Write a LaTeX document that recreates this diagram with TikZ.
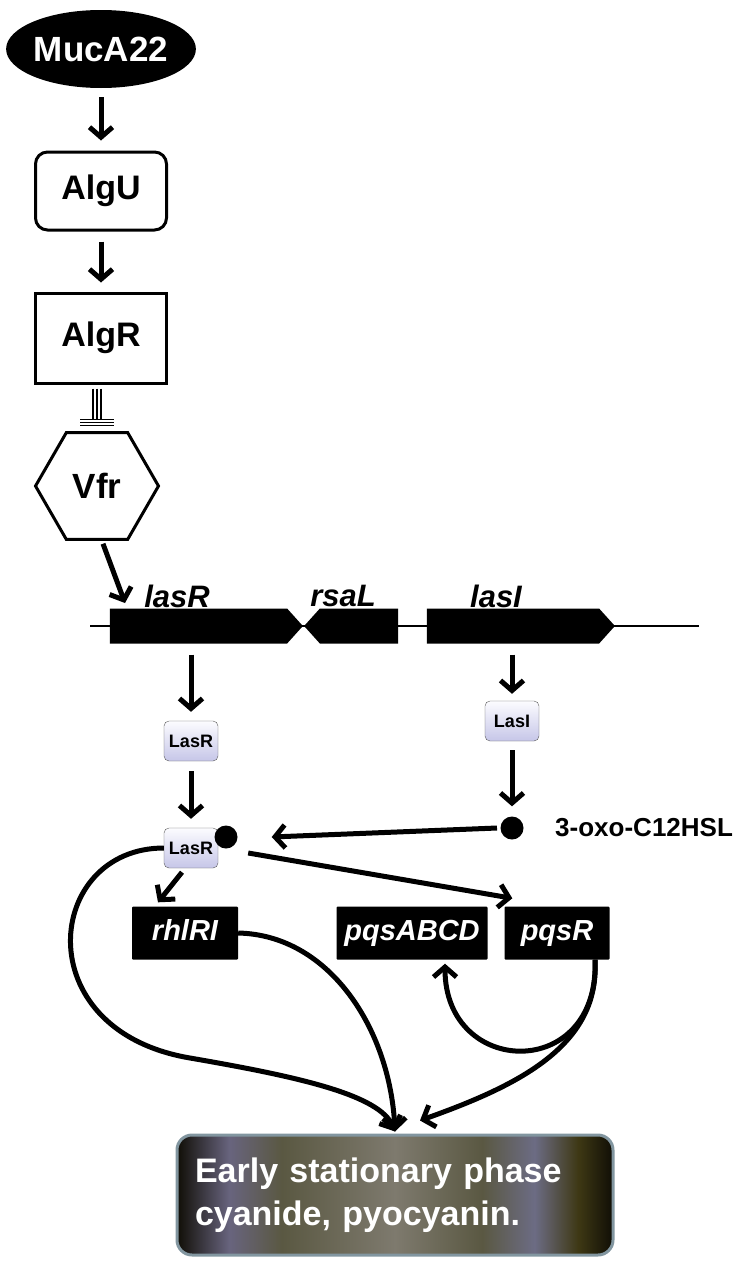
\documentclass[tikz,border=0pt]{standalone}
\usepackage{fontspec}
\setmainfont{Liberation Sans}
\usepackage{tikz}
\usetikzlibrary{positioning, shapes.geometric, shapes.symbols, arrows.meta}
\definecolor{protTop}{RGB}{252,252,255}
\definecolor{protBot}{RGB}{198,198,232}
\definecolor{finEdge}{RGB}{130,150,160}
\definecolor{fin0}{RGB}{16,14,6}
\definecolor{fin1}{RGB}{104,100,126}
\definecolor{fin2}{RGB}{90,88,66}
\definecolor{fin3}{RGB}{126,122,110}
\definecolor{fin4}{RGB}{108,108,132}
\definecolor{fin5}{RGB}{62,56,20}
\pgfdeclarehorizontalshading{finshade}{100bp}{color(0bp)=(fin0); color(25bp)=(fin0);
  color(31bp)=(fin1); color(37bp)=(fin2); color(50bp)=(fin3); color(60bp)=(fin2);
  color(66bp)=(fin4); color(71bp)=(fin5); color(75bp)=(fin0); color(100bp)=(fin0)}
\tikzstyle{arrow} = [line width=5pt,-{Straight Barb[length=10pt,width=23pt]}]

\begin{document}
\begin{tikzpicture}[x=1pt, y=-1pt,
    box/.style={draw, line width=3pt, minimum width=131, font=\fontsize{34}{38}\selectfont\bfseries},
    prot/.style={draw=gray!70!black, rounded corners=5, top color=protTop, bottom color=protBot,
      minimum width=54, minimum height=40, inner sep=0, font=\fontsize{18}{20}\selectfont\bfseries},
    gene/.style={signal, fill=black, minimum height=35, inner sep=0, signal pointer angle=96},
    glabel/.style={font=\fontsize{31}{34}\selectfont\bfseries\itshape},
    operon/.style={fill=black, text=white, minimum height=53, inner sep=0, rounded corners=1,
      text height=21, text depth=6, font=\fontsize{29}{32}\selectfont\bfseries\itshape},
    ahl/.style={circle, fill=black, minimum size=23, inner sep=0},
    finbox/.style={draw=finEdge, line width=3pt, rounded corners=15, shade, shading=finshade,
      minimum width=436, minimum height=120, text width=400, align=left, text=white,
      font=\fontsize{34}{43}\selectfont\bfseries}
  ]
  \useasboundingbox (0,0) rectangle (747,1266);

  % upstream regulators
  \node[ellipse, fill=black, text=white, minimum width=178, minimum height=78, inner sep=0,
    font=\fontsize{35}{38}\selectfont\bfseries] (muc) at (101,49) {MucA22};
  \node[box, rounded corners=12, minimum height=78] (algU) at (101,191) {AlgU};
  \node[box, minimum height=90] (algR) at (101,338) {AlgR};
  \node[regular polygon, regular polygon sides=6, minimum size=123, draw, line width=3pt, inner sep=0,
    font=\fontsize{35}{38}\selectfont\bfseries] (vfr) at (97,486) {Vfr};

  \draw[arrow] ([yshift=-9]muc.south) -- ([yshift=10]algU.north);
  \draw[arrow] ([yshift=-10]algU.south) -- ([yshift=9]algR.north);
  \foreach \dx in {-4,0,4}
    \draw[line width=1.3pt] ([xshift=\dx, yshift=-4]vfr.north |- algR.south) -- ([xshift=\dx, yshift=11]vfr.north);
  \foreach \dy in {6,9,12}
    \draw[line width=1.3pt] ([xshift=-17, yshift=\dy]vfr.north) -- ([xshift=17, yshift=\dy]vfr.north);

  % las locus
  \coordinate (locL) at (90,626);
  \coordinate (locR) at (699,626);
  \draw[line width=2.5pt] (locL) -- (locR);
  \node[gene, signal to=east, minimum width=193] (lasRg) at (198.5,626) {};
  \node[gene, signal to=west, minimum width=94] (rsaLg) at (359,626) {};
  \node[gene, signal to=east, minimum width=188] (lasIg) at (513,626) {};
  \node[glabel] (lasRt) at (177,596) {lasR};
  \node[glabel] (rsaLt) at (343,596) {rsaL};
  \node[glabel] (lasIt) at (496,596) {lasI};
  \coordinate (vfrTip) at (125,603);
  \draw[arrow] ([xshift=6, yshift=-3]vfr.south) -- (vfrTip);

  % proteins and signal
  \node[prot] (lasRp) at (191,741) {LasR};
  \node[prot] (lasIp) at (512,721) {LasI};
  \node[prot] (lasRc) at (191,848) {\raisebox{-7pt}{LasR}};
  \node[ahl] (ahlb) at (226,837) {};
  \node[ahl] (ahl) at (512,828) {};
  \node[right=28pt of ahl, font=\fontsize{26}{28}\selectfont\bfseries] (ahlt) {3-oxo-C12HSL};

  \draw[arrow] ([yshift=-11]lasRg.south -| lasRp.north) -- ([yshift=9]lasRp.north);
  \draw[arrow] ([yshift=-10]lasRp.south) -- ([yshift=9]lasRc.north);
  \draw[arrow] ([yshift=-11]lasIg.south -| lasIp.north) -- ([yshift=7]lasIp.north);
  \draw[arrow] ([yshift=-9]lasIp.south) -- ([yshift=10]ahl.north);
  \draw[arrow] ([xshift=-15]ahl.center) -- ([xshift=34]ahlb.east);

  % targets
  \node[operon, minimum width=106] (rhl) at (185,933) {rhlRI};
  \node[operon, minimum width=151] (pqsA) at (412,933) {pqsABCD};
  \node[operon, minimum width=105] (pqsR) at (557,933) {pqsR};
  \node[finbox] (fin) at (395,1195) {Early stationary phase\\cyanide, pyocyanin.};

  \draw[arrow] ([xshift=-9, yshift=-4]lasRc.south) -- ([xshift=-27, yshift=4]rhl.north);
  \draw[arrow] ([xshift=30, yshift=-5]lasRc.east) -- ([xshift=8, yshift=8]pqsR.north west);
  \draw[arrow] (lasRc.west) .. controls (45,848) and (25,1030) .. (190,1058)
    .. controls (300,1077) and (380,1095) .. ([yshift=2]fin.north);
  \draw[arrow] (rhl.east) .. controls (330,935) and (390,1030) .. ([yshift=2]fin.north);
  \draw[arrow] ([xshift=38]pqsR.south) .. controls (600,1045) and (520,1085) .. ([xshift=25, yshift=13]fin.north);
  \draw[arrow] ([xshift=38]pqsR.south) .. controls (600,1082) and (445,1078) .. ([xshift=33, yshift=-4]pqsA.south);
\end{tikzpicture}
\end{document}
